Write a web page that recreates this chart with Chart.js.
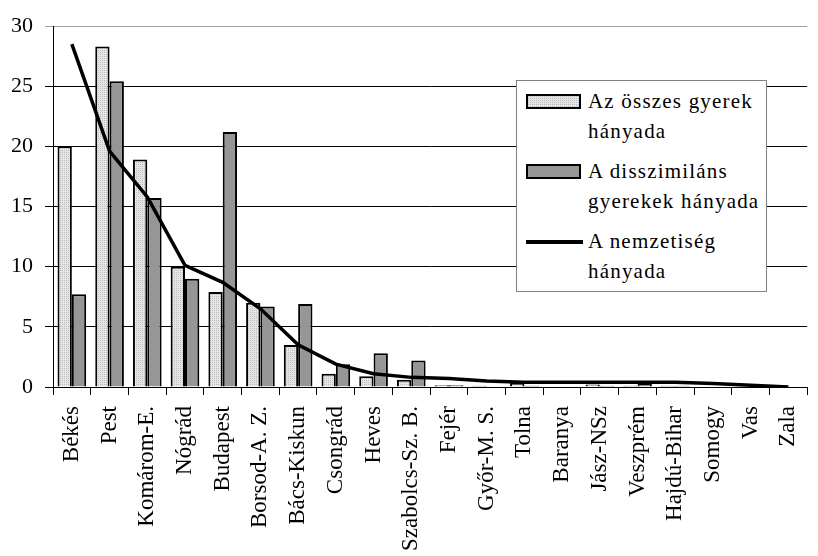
<!DOCTYPE html>
<html>
<head>
    <title>Gyerekek és nemzetiség hányada megyénként</title>
    <script src="https://cdn.jsdelivr.net/npm/chart.js"></script>
    <style>
        html, body { margin: 0; padding: 0; overflow: hidden; background: #fff; }
        #wrap { position: relative; width: 818px; height: 556px; overflow: hidden; }
        #legend {
            position: absolute; left: 516px; top: 80px; width: 249px; height: 210px;
            border: 1px solid #808080; background: #fff;
            font-family: 'Liberation Serif', 'Times New Roman', serif; font-size: 21px;
            letter-spacing: 1.2px; color: #000;
        }
        .item { position: absolute; left: 71px; line-height: 30px; white-space: nowrap; }
        .sym { position: absolute; left: 9px; box-sizing: border-box; }
    </style>
</head>
<body>
<div id="wrap">
    <canvas id="chart" width="827" height="556"></canvas>
    <div id="legend">
        <div class="sym" id="symAll" style="top:13px;width:55px;height:15px;border:2px solid #000;"></div>
        <div class="item" style="top:5px;">Az összes gyerek<br>hányada</div>
        <div class="sym" style="top:83px;width:55px;height:15px;border:2px solid #000;background:#969696;"></div>
        <div class="item" style="top:75px;">A disszimiláns<br>gyerekek hányada</div>
        <div class="sym" style="top:159px;width:57px;height:4px;background:#000;"></div>
        <div class="item" style="top:145px;">A nemzetiség<br>hányada</div>
    </div>
</div>

<script>
    // megyék
    const counties = ['Békés', 'Pest', 'Komárom-E.', 'Nógrád', 'Budapest', 'Borsod-A. Z.',
        'Bács-Kiskun', 'Csongrád', 'Heves', 'Szabolcs-Sz. B.', 'Fejér', 'Győr-M. S.', 'Tolna',
        'Baranya', 'Jász-NSz', 'Veszprém', 'Hajdú-Bihar', 'Somogy', 'Vas', 'Zala'];

    // Az összes gyerek hányada (%)
    const allChildren = [20.0, 28.3, 18.9, 10.0, 7.9, 7.0, 3.5, 1.1, 0.9, 0.6,
        0.15, 0.1, 0.35, 0.05, 0.2, 0.1, 0.1, 0.05, 0.05, 0];

    // A disszimiláns gyerekek hányada (%)
    const dissimChildren = [7.7, 25.4, 15.7, 9.0, 21.2, 6.7, 6.9, 1.9, 2.8, 2.2,
        0.15, 0.05, 0.1, 0.05, 0.1, 0.3, 0.1, 0.05, 0.05, 0];

    // A nemzetiség hányada (%)
    const nationality = [28.5, 19.6, 15.8, 10.1, 8.7, 6.5, 3.5, 1.9, 1.1, 0.8,
        0.7, 0.5, 0.4, 0.4, 0.4, 0.4, 0.4, 0.3, 0.15, 0];

    const yTicks = [0, 5, 10, 15, 20, 25, 30];

    // pontozott minta a világos oszlopokhoz
    const pc = document.createElement('canvas');
    pc.width = 2; pc.height = 2;
    const pctx = pc.getContext('2d');
    pctx.fillStyle = '#e6e6e6';
    pctx.fillRect(0, 0, 2, 2);
    pctx.fillStyle = '#bcbcbc';
    pctx.fillRect(0, 0, 1, 1);
    const ctx = document.getElementById('chart').getContext('2d');
    const dotted = ctx.createPattern(pc, 'repeat');
    document.getElementById('symAll').style.backgroundImage = 'url(' + pc.toDataURL() + ')';

    const serif = "'Liberation Serif', 'Times New Roman', serif";

    new Chart(ctx, {
        type: 'bar',
        data: {
            labels: counties,
            datasets: [
                {
                    type: 'line',
                    label: 'A nemzetiség hányada',
                    data: nationality,
                    borderColor: '#000',
                    borderWidth: 3.5,
                    pointRadius: 0,
                    tension: 0,
                    fill: false,
                    order: 0
                },
                {
                    label: 'Az összes gyerek hányada',
                    data: allChildren,
                    backgroundColor: dotted,
                    borderColor: '#000',
                    borderWidth: 2,
                    order: 1
                },
                {
                    label: 'A disszimiláns gyerekek hányada',
                    data: dissimChildren,
                    backgroundColor: '#969696',
                    borderColor: '#000',
                    borderWidth: 2,
                    order: 2
                }
            ]
        },
        options: {
            responsive: false,
            animation: false,
            layout: { padding: { top: 26, left: 0, right: 0, bottom: 0 } },
            datasets: {
                bar: { categoryPercentage: 0.76, barPercentage: 1.0 }
            },
            plugins: {
                legend: { display: false },
                tooltip: { enabled: false }
            },
            scales: {
                x: {
                    offset: true,
                    grid: {
                        offset: true,
                        drawOnChartArea: false,
                        drawTicks: true,
                        tickLength: 8,
                        color: '#000'
                    },
                    border: { display: true, color: '#000', width: 1 },
                    ticks: {
                        autoSkip: false,
                        minRotation: 90,
                        maxRotation: 90,
                        padding: 11,
                        color: '#000',
                        font: { family: serif, size: 23 }
                    },
                    afterFit: (s) => { s.height = 169; }
                },
                y: {
                    min: 0,
                    max: 30,
                    afterBuildTicks: (s) => { s.ticks = yTicks.map(v => ({ value: v })); },
                    grid: {
                        color: (c) => c.tick && c.tick.value === 30 ? '#a0a0a0' : '#000',
                        lineWidth: 1,
                        tickLength: 8
                    },
                    border: { display: true, color: '#000', width: 1 },
                    ticks: {
                        padding: 12,
                        color: '#000',
                        font: { family: serif, size: 22 }
                    },
                    afterFit: (s) => { s.width = 53; }
                }
            }
        }
    });
</script>
</body>
</html>
